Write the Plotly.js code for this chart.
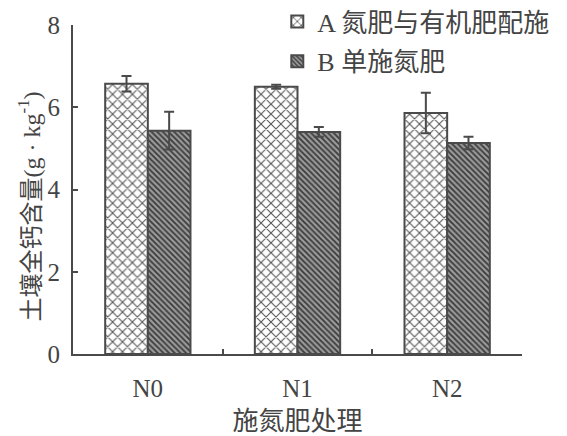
<!DOCTYPE html>
<html><head><meta charset="utf-8">
<script src="https://cdn.plot.ly/plotly-3.0.1.min.js"></script>
<style>body{margin:0;background:#fff}#c{width:567px;height:436px}</style>
</head><body><div id="c"></div>
<script>
const categories = ["N0", "N1", "N2"];
const seriesNames = ["A 氮肥与有机肥配施", "B 单施氮肥"];
const valuesA = [6.57, 6.50, 5.86];
const errorsA = [0.19, 0.05, 0.49];
const valuesB = [5.43, 5.40, 5.13];
const errorsB = [0.46, 0.12, 0.15];
const yTicks = [0, 2, 4, 6, 8];
const xTitle = "施氮肥处理";
const yTitle = "土壤全钙含量(g · kg<sup>-1</sup>)";

const F = "Liberation Serif, Noto Sans CJK SC, serif";
const ink = "#4a4a4a";

const traceA = {
  type: "bar", x: categories, y: valuesA, name: seriesNames[0],
  legendgroup: "a",
  marker: {color: "#ffffff", line: {color: ink, width: 2},
    pattern: {shape: "x", fgcolor: "#555", bgcolor: "#ffffff", size: 7, solidity: 0.28}},
  error_y: {type: "data", array: errorsA, visible: true, color: ink, thickness: 2, width: 5}
};
const traceB = {
  type: "bar", x: categories, y: valuesB, name: seriesNames[1],
  legendgroup: "b",
  marker: {color: "#8a8a8a", line: {color: ink, width: 2},
    pattern: {shape: "\\", fgcolor: "#3a3a3a", bgcolor: "#9a9a9a", size: 4, solidity: 0.45}},
  error_y: {type: "data", array: errorsB, visible: true, color: ink, thickness: 2, width: 5}
};

const layout = {
  width: 567, height: 436,
  margin: {l: 73, r: 45, t: 25, b: 82, autoexpand: false},
  paper_bgcolor: "#fff", plot_bgcolor: "#fff",
  barmode: "group", bargap: 0.43, bargroupgap: 0,
  font: {family: F, color: "#444", size: 24},
  showlegend: true,
  legend: {x: 0.455, y: 1.082, xanchor: "left", yanchor: "top",
    bgcolor: "rgba(0,0,0,0)", font: {family: F, size: 26, color: "#444"},
    traceorder: "grouped", tracegroupgap: 3, itemwidth: 30},
  xaxis: {
    type: "category", range: [-0.5, 2.5], tickson: "boundaries", automargin: false,
    ticks: "inside", ticklen: 5, tickwidth: 2, tickcolor: ink,
    showline: true, linecolor: ink, linewidth: 2, showgrid: false, zeroline: false,
    tickfont: {family: F, size: 25, color: "#444"}, ticklabelstandoff: 11,
    title: {text: xTitle, font: {family: F, size: 26, color: "#444"}, standoff: 16}
  },
  yaxis: {
    range: [0, 8], tickvals: yTicks, ticktext: yTicks.map(String), automargin: false,
    ticks: "inside", ticklen: 5, tickwidth: 2, tickcolor: ink,
    showline: true, linecolor: ink, linewidth: 2, showgrid: false, zeroline: false,
    tickfont: {family: F, size: 25, color: "#444"}, ticklabelstandoff: 6
  },
  annotations: [{
    text: yTitle, textangle: -90, showarrow: false,
    xref: "paper", yref: "paper", x: -0.097, y: 0.45, xanchor: "center", yanchor: "middle",
    font: {family: F, size: 24, color: "#444"}
  }]
};
Plotly.newPlot("c", [traceA, traceB], layout, {displayModeBar: false, staticPlot: true});
</script></body></html>
